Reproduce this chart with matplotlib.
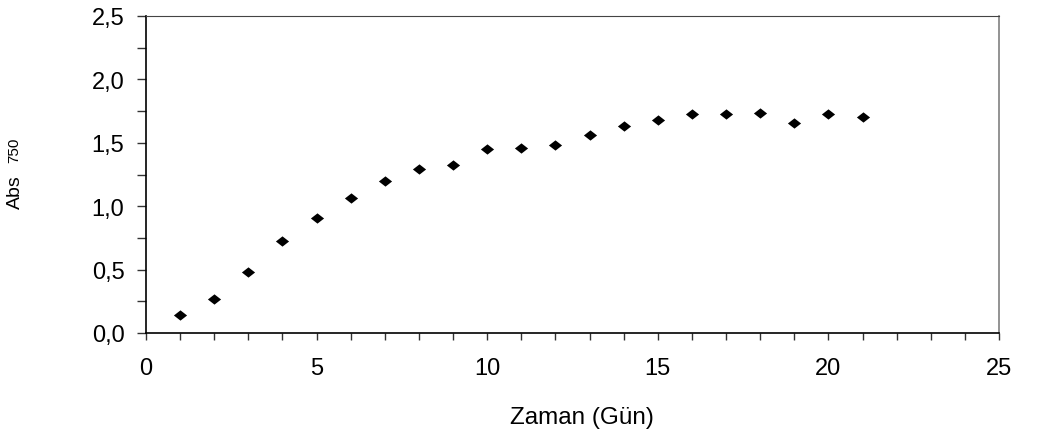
import matplotlib
matplotlib.use('Agg')
import matplotlib.pyplot as plt
from matplotlib.ticker import MultipleLocator, FuncFormatter

plt.rcParams['font.family'] = ['Liberation Sans', 'DejaVu Sans']

gun = [1, 2, 3, 4, 5, 6, 7, 8, 9, 10, 11, 12, 13, 14, 15, 16, 17, 18, 19, 20, 21]
abs750 = [0.144, 0.268, 0.483, 0.723, 0.907, 1.065, 1.201, 1.291, 1.325, 1.451, 1.461,
          1.485, 1.564, 1.635, 1.680, 1.725, 1.725, 1.735, 1.656, 1.725, 1.703]

# flattened diamond like the excel marker
diamond = [(-1, 0), (0, 0.78), (1, 0), (0, -0.78), (-1, 0)]

fig = plt.figure(figsize=(10.47, 4.35), dpi=100)
ax = fig.add_axes([146 / 1047, 1 - 334 / 435, (999 - 146) / 1047, (334 - 17) / 435])

ax.plot(gun, abs750, linestyle='none', marker=diamond, markersize=9.5,
        color='black', markeredgewidth=0)

ax.set_xlim(0, 25)
ax.set_ylim(0, 2.5)
ax.xaxis.set_major_locator(MultipleLocator(5))
ax.xaxis.set_minor_locator(MultipleLocator(1))
ax.yaxis.set_major_locator(MultipleLocator(0.5))
ax.yaxis.set_minor_locator(MultipleLocator(0.25))
ax.yaxis.set_major_formatter(FuncFormatter(lambda v, p: ('%.1f' % v).replace('.', ',')))

ax.tick_params(which='both', direction='out', width=1, labelsize=17, color='#333333')
ax.tick_params(axis='x', which='both', length=5, pad=12)
ax.tick_params(axis='y', which='both', length=6.5, pad=9)

for s in ['left', 'bottom']:
    ax.spines[s].set_linewidth(1.2)
    ax.spines[s].set_color('black')
ax.spines['top'].set_linewidth(0.8)
ax.spines['top'].set_color('#444444')
ax.spines['right'].set_linewidth(1.2)
ax.spines['right'].set_color('#808080')

fig.text(582 / 1047, 1 - 418 / 435, 'Zaman (Gün)', ha='center', va='center', fontsize=17.5)
fig.text(15 / 1047, 1 - 192 / 435, 'Abs', rotation=90, ha='center', va='center', fontsize=14)
fig.text(14.5 / 1047, 1 - 150 / 435, '750', rotation=90, ha='center', va='center', fontsize=11)

fig.savefig('out.png', dpi=100)
